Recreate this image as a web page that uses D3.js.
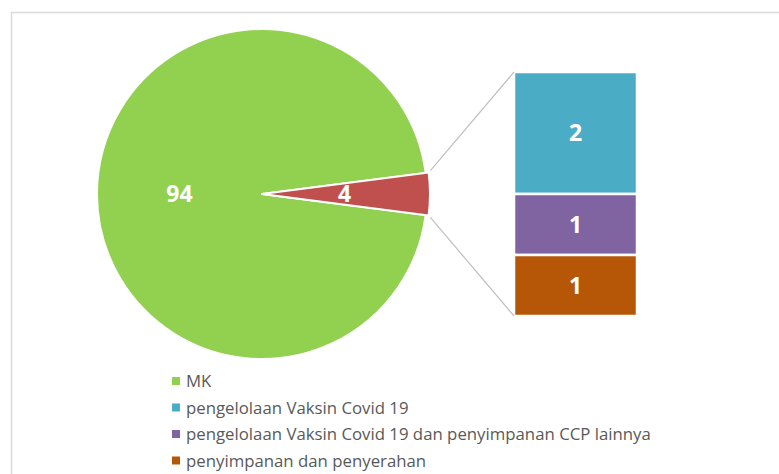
<!DOCTYPE html>
<html lang="en">
<head>
<meta charset="utf-8" />
<script src="https://d3js.org/d3.v7.min.js"></script>
<style>
  body { margin: 0; background: #fff; }
  svg { display: block; font-family: "Open Sans", sans-serif; }
</style>
</head>
<body>
<script>
    // data
    const pieNames = ["MK", "Lainnya"];
    const mkValue = 94;
    const barNames = ["pengelolaan Vaksin Covid 19", "pengelolaan Vaksin Covid 19 dan penyimpanan CCP lainnya", "penyimpanan dan penyerahan"];
    const barValues = [2, 1, 1];
    const legendNames = ["MK", "pengelolaan Vaksin Covid 19", "pengelolaan Vaksin Covid 19 dan penyimpanan CCP lainnya", "penyimpanan dan penyerahan"];

    const pieColors = ["#92d050", "#c0504d"];
    const barColors = ["#4bacc6", "#8064a2", "#b65708"];
    const legendColors = ["#92d050", "#4bacc6", "#8064a2", "#b65708"];

    const width = 779, height = 474;
    const cx = 262, cy = 194, R = 165;

    const svg = d3.select("body").append("svg")
        .attr("width", width)
        .attr("height", height);

    // chart frame
    svg.append("rect")
        .attr("x", 11.5).attr("y", 12.5)
        .attr("width", 800).attr("height", 500)
        .attr("fill", "#fff")
        .attr("stroke", "#d9d9d9")
        .attr("stroke-width", 1.5);

    // pie: MK plus the sum of the bar part
    const other = d3.sum(barValues);
    const pieData = [mkValue, other];
    const total = d3.sum(pieData);
    const redAngle = other / total * 2 * Math.PI;
    const start = Math.PI / 2 + redAngle / 2;

    const pie = d3.pie().sort(null).startAngle(start).endAngle(start + 2 * Math.PI);
    const arc = d3.arc().innerRadius(0).outerRadius(R);
    const arcRed = d3.arc().innerRadius(0).outerRadius(R + 3);
    const arcs = pie(pieData);

    const g = svg.append("g").attr("transform", "translate(" + cx + "," + cy + ")");
    g.selectAll("path")
        .data(arcs)
        .enter()
        .append("path")
        .attr("d", (d, i) => i === 1 ? arcRed(d) : arc(d))
        .attr("fill", (d, i) => pieColors[i])
        .attr("stroke", "#fff")
        .attr("stroke-width", 2)
        .attr("stroke-linejoin", "round");

    g.selectAll("text")
        .data(arcs)
        .enter()
        .append("text")
        .attr("transform", d => "translate(" + arc.centroid(d) + ")")
        .attr("text-anchor", "middle")
        .attr("dy", "0.36em")
        .attr("fill", "#fff")
        .attr("font-weight", "bold")
        .attr("font-size", 23)
        .text(d => d.data);

    // bar of pie
    const barX = 514, barW = 123;
    const yScale = d3.scaleLinear().domain([0, other]).range([72, 316]);
    const stacked = [];
    let acc = 0;
    barValues.forEach((v, i) => { stacked.push({ y0: acc, y1: acc + v, v: v, i: i }); acc += v; });

    svg.selectAll(".bar")
        .data(stacked)
        .enter()
        .append("rect")
        .attr("class", "bar")
        .attr("x", barX)
        .attr("y", d => yScale(d.y0))
        .attr("width", barW)
        .attr("height", d => yScale(d.y1) - yScale(d.y0))
        .attr("fill", d => barColors[d.i])
        .attr("stroke", "#fff")
        .attr("stroke-width", 2.5);

    svg.selectAll(".barLabel")
        .data(stacked)
        .enter()
        .append("text")
        .attr("class", "barLabel")
        .attr("x", barX + barW / 2)
        .attr("y", d => (yScale(d.y0) + yScale(d.y1)) / 2)
        .attr("dy", "0.36em")
        .attr("text-anchor", "middle")
        .attr("fill", "#fff")
        .attr("font-weight", "bold")
        .attr("font-size", 23)
        .text(d => d.v);

    // connector lines from the red slice to the bar
    const rr = R + 5;
    const aTop = Math.PI / 2 - redAngle / 2 - 0.01, aBot = Math.PI / 2 + redAngle / 2 + 0.01;
    const links = [
        [cx + rr * Math.sin(aTop), cy - rr * Math.cos(aTop), barX, yScale(0)],
        [cx + rr * Math.sin(aBot), cy - rr * Math.cos(aBot), barX, yScale(other)]
    ];
    svg.selectAll(".link")
        .data(links)
        .enter()
        .append("line")
        .attr("class", "link")
        .attr("x1", d => d[0]).attr("y1", d => d[1])
        .attr("x2", d => d[2]).attr("y2", d => d[3])
        .attr("stroke", "#bfbfbf")
        .attr("stroke-width", 1.2);

    // legend
    const legend = svg.append("g").attr("transform", "translate(172, 381)");
    const row = legend.selectAll("g")
        .data(legendNames)
        .enter()
        .append("g")
        .attr("transform", (d, i) => "translate(0," + i * 26.5 + ")");
    row.append("rect")
        .attr("x", 0).attr("y", -4)
        .attr("width", 8).attr("height", 8)
        .attr("fill", (d, i) => legendColors[i]);
    row.append("text")
        .attr("x", 14)
        .attr("dy", "0.36em")
        .attr("fill", "#595959")
        .attr("font-size", 16.8)
        .text(d => d);
</script>
</body>
</html>
